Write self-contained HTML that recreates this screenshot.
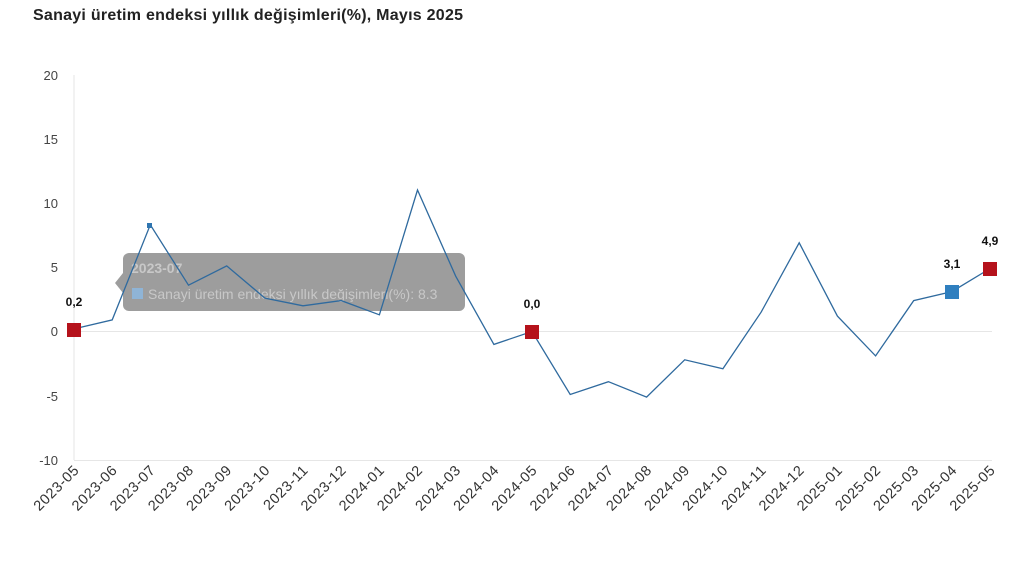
<!DOCTYPE html>
<html><head><meta charset="utf-8"><style>
body{margin:0;background:#fff;}
svg{display:block;font-family:"Liberation Sans",sans-serif;}
</style></head><body>
<svg width="1032" height="580" viewBox="0 0 1032 580" xmlns="http://www.w3.org/2000/svg">
<text x="33" y="20" font-size="16" font-weight="bold" fill="#222" textLength="430">Sanayi üretim endeksi yıllık değişimleri(%), Mayıs 2025</text>
<g stroke="#e6e6e6" stroke-width="1">
<line x1="74" y1="75" x2="74" y2="460"/>
<line x1="74" y1="331.5" x2="992" y2="331.5"/>
<line x1="74" y1="460.5" x2="992" y2="460.5"/>
</g>
<g font-size="13" fill="#444" text-anchor="end">
<text x="58" y="80">20</text><text x="58" y="144">15</text><text x="58" y="208">10</text>
<text x="58" y="272">5</text><text x="58" y="336">0</text><text x="58" y="401">-5</text><text x="58" y="465">-10</text>
</g>
<g font-size="14.5" fill="#333" text-anchor="end" letter-spacing="0.6">
<text x="80.0" y="471" transform="rotate(-45 80.0 471)">2023-05</text>
<text x="118.2" y="471" transform="rotate(-45 118.2 471)">2023-06</text>
<text x="156.3" y="471" transform="rotate(-45 156.3 471)">2023-07</text>
<text x="194.5" y="471" transform="rotate(-45 194.5 471)">2023-08</text>
<text x="232.7" y="471" transform="rotate(-45 232.7 471)">2023-09</text>
<text x="270.9" y="471" transform="rotate(-45 270.9 471)">2023-10</text>
<text x="309.0" y="471" transform="rotate(-45 309.0 471)">2023-11</text>
<text x="347.2" y="471" transform="rotate(-45 347.2 471)">2023-12</text>
<text x="385.4" y="471" transform="rotate(-45 385.4 471)">2024-01</text>
<text x="423.5" y="471" transform="rotate(-45 423.5 471)">2024-02</text>
<text x="461.7" y="471" transform="rotate(-45 461.7 471)">2024-03</text>
<text x="499.9" y="471" transform="rotate(-45 499.9 471)">2024-04</text>
<text x="538.0" y="471" transform="rotate(-45 538.0 471)">2024-05</text>
<text x="576.2" y="471" transform="rotate(-45 576.2 471)">2024-06</text>
<text x="614.4" y="471" transform="rotate(-45 614.4 471)">2024-07</text>
<text x="652.6" y="471" transform="rotate(-45 652.6 471)">2024-08</text>
<text x="690.7" y="471" transform="rotate(-45 690.7 471)">2024-09</text>
<text x="728.9" y="471" transform="rotate(-45 728.9 471)">2024-10</text>
<text x="767.1" y="471" transform="rotate(-45 767.1 471)">2024-11</text>
<text x="805.2" y="471" transform="rotate(-45 805.2 471)">2024-12</text>
<text x="843.4" y="471" transform="rotate(-45 843.4 471)">2025-01</text>
<text x="881.6" y="471" transform="rotate(-45 881.6 471)">2025-02</text>
<text x="919.7" y="471" transform="rotate(-45 919.7 471)">2025-03</text>
<text x="957.9" y="471" transform="rotate(-45 957.9 471)">2025-04</text>
<text x="996.1" y="471" transform="rotate(-45 996.1 471)">2025-05</text>
</g>
<rect x="123" y="253" width="342" height="58" rx="6" fill="rgba(140,140,140,0.85)"/>
<polygon points="123,273 115,283 123,293" fill="rgba(140,140,140,0.85)"/>
<text x="131" y="273" font-size="14" font-weight="bold" fill="#c8c8c8">2023-07</text>
<rect x="132" y="288" width="11" height="11" fill="#8fb4d6"/>
<text x="148" y="299" font-size="14" fill="#c8c8c8">Sanayi üretim endeksi yıllık değişimleri(%): 8.3</text>
<polyline fill="none" stroke="#2f6a9e" stroke-width="1.3" points="74,328.9 112.2,319.9 150.3,224.8 188.5,285.2 226.7,265.9 264.9,298.1 303.0,305.8 341.2,300.6 379.4,314.8 417.5,190.0 455.7,276.2 493.9,344.4 532.0,331.5 570.2,394.5 608.4,381.7 646.6,397.1 684.7,359.8 722.9,368.8 761.1,312.2 799.2,242.8 837.4,316.1 875.6,355.9 913.7,300.6 951.9,291.6 990.1,268.5"/>
<rect x="147" y="223" width="5" height="5" fill="#2f75b0"/>
<rect x="67" y="323" width="14" height="14" fill="#b5121b"/>
<rect x="525" y="325" width="14" height="14" fill="#b5121b"/>
<rect x="945" y="285" width="14" height="14" fill="#2f7fbf"/>
<rect x="983" y="262" width="14" height="14" fill="#b5121b"/>
<g font-size="12" font-weight="bold" fill="#111" text-anchor="middle">
<text x="74" y="306">0,2</text><text x="532" y="308">0,0</text>
<text x="952" y="268">3,1</text><text x="990" y="245">4,9</text>
</g>
</svg>
</body></html>
